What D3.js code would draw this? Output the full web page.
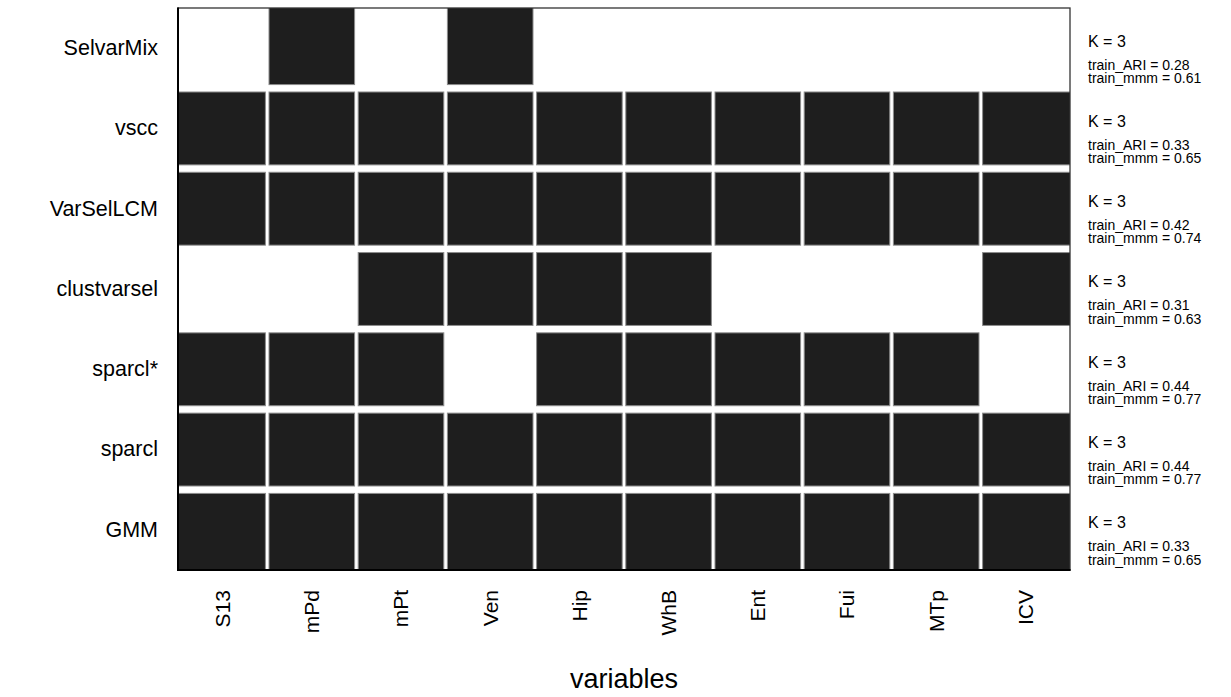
<!DOCTYPE html>
<html>
<head>
<meta charset="utf-8">
<script src="https://cdn.jsdelivr.net/npm/d3@7"></script>
<style>
  html, body { margin: 0; padding: 0; background: #fff; }
  svg text { font-family: "Liberation Sans", Arial, Helvetica, sans-serif; fill: #000; }
</style>
</head>
<body>
<svg id="chart" width="1231" height="697"></svg>
<script>
// Methods (rows) and variables (columns)
const methods = ["SelvarMix", "vscc", "VarSelLCM", "clustvarsel", "sparcl*", "sparcl", "GMM"];
const variables = ["S13", "mPd", "mPt", "Ven", "Hip", "WhB", "Ent", "Fui", "MTp", "ICV"];

// 1 = variable selected by the method
const selSelvarMix   = [0, 1, 0, 1, 0, 0, 0, 0, 0, 0];
const selVscc        = [1, 1, 1, 1, 1, 1, 1, 1, 1, 1];
const selVarSelLCM   = [1, 1, 1, 1, 1, 1, 1, 1, 1, 1];
const selClustvarsel = [0, 0, 1, 1, 1, 1, 0, 0, 0, 1];
const selSparclStar  = [1, 1, 1, 0, 1, 1, 1, 1, 1, 0];
const selSparcl      = [1, 1, 1, 1, 1, 1, 1, 1, 1, 1];
const selGMM         = [1, 1, 1, 1, 1, 1, 1, 1, 1, 1];
const selection = [selSelvarMix, selVscc, selVarSelLCM, selClustvarsel, selSparclStar, selSparcl, selGMM];

// Per-method fit summary
const numClusters = [3, 3, 3, 3, 3, 3, 3];
const trainARI = ["0.28", "0.33", "0.42", "0.31", "0.44", "0.44", "0.33"];
const trainMMM = ["0.61", "0.65", "0.74", "0.63", "0.77", "0.77", "0.65"];

const svg = d3.select("#chart");
const plot = { left: 178, right: 1070, top: 8, bottom: 570 };

const x = d3.scaleBand().domain(variables).range([plot.left, plot.right]).padding(0);
const y = d3.scaleBand().domain(methods).range([plot.top, plot.bottom]).padding(0);

const colGap = 3.6, rowGap = 7.4;

svg.append("clipPath").attr("id", "plotClip")
  .append("rect")
  .attr("x", plot.left).attr("y", plot.top)
  .attr("width", plot.right - plot.left).attr("height", plot.bottom - plot.top);

const cells = [];
methods.forEach((m, r) => {
  variables.forEach((v, c) => {
    if (selection[r][c]) cells.push({ m, v, r, c });
  });
});

// Cell edges: interior edges leave a white gap, outer edges run under the frame
const cellX0 = d => d.c === 0 ? x(d.v) - 4 : x(d.v) + colGap / 2;
const cellX1 = d => d.c === variables.length - 1 ? x(d.v) + x.bandwidth() + 4 : x(d.v) + x.bandwidth() - colGap / 2;
const cellY0 = d => d.r === 0 ? y(d.m) - 4 : y(d.m) + rowGap / 2;
const cellY1 = d => d.r === methods.length - 1 ? y(d.m) + y.bandwidth() + 4 : y(d.m) + y.bandwidth() - rowGap / 2;

svg.append("g").attr("clip-path", "url(#plotClip)")
  .selectAll("rect").data(cells).join("rect")
  .attr("x", cellX0)
  .attr("width", d => cellX1(d) - cellX0(d))
  .attr("y", cellY0)
  .attr("height", d => cellY1(d) - cellY0(d))
  .attr("fill", "#1e1e1e")
  .attr("stroke", "#8c8c8c")
  .attr("stroke-width", 1);

// Frame
svg.append("rect")
  .attr("x", plot.left).attr("y", plot.top)
  .attr("width", plot.right - plot.left).attr("height", plot.bottom - plot.top)
  .attr("fill", "none").attr("stroke", "#333").attr("stroke-width", 1.3);
svg.append("line")
  .attr("x1", plot.left).attr("x2", plot.left)
  .attr("y1", plot.top - 0.6).attr("y2", plot.bottom + 1)
  .attr("stroke", "#000").attr("stroke-width", 2);
svg.append("line")
  .attr("x1", plot.left - 1).attr("x2", plot.right + 0.6)
  .attr("y1", plot.bottom).attr("y2", plot.bottom)
  .attr("stroke", "#000").attr("stroke-width", 2);

// Y axis labels
const yAxis = d3.axisLeft(y).tickSize(0).tickPadding(20);
const gy = svg.append("g").attr("transform", `translate(${plot.left},0)`).call(yAxis);
gy.select(".domain").remove();
gy.selectAll("text")
  .style("font-family", '"Liberation Sans", Arial, sans-serif')
  .style("font-size", "21.5px").attr("fill", "#000");

// X axis labels, rotated
const xAxis = d3.axisBottom(x).tickSize(0).tickPadding(0);
const gx = svg.append("g").attr("transform", `translate(0,${plot.bottom})`).call(xAxis);
gx.select(".domain").remove();
gx.selectAll("text")
  .style("font-family", '"Liberation Sans", Arial, sans-serif')
  .style("font-size", "21px").attr("fill", "#000")
  .attr("text-anchor", "end")
  .attr("dy", "0.35em")
  .attr("y", 0)
  .attr("transform", "translate(0,20) rotate(-90)");

// X axis title
svg.append("text")
  .attr("x", (plot.left + plot.right) / 2).attr("y", 688)
  .attr("text-anchor", "middle")
  .style("font-size", "27px")
  .text("variables");

// Right-hand fit summaries
const ann = svg.append("g");
methods.forEach((m, r) => {
  const top = y(m);
  const tx = plot.right + 18;
  ann.append("text").attr("x", tx).attr("y", top + 38.5)
    .style("font-size", "16px").text(`K = ${numClusters[r]}`);
  ann.append("text").attr("x", tx).attr("y", top + 61.5)
    .style("font-size", "14px").text(`train_ARI = ${trainARI[r]}`);
  ann.append("text").attr("x", tx).attr("y", top + 74.8)
    .style("font-size", "14px").text(`train_mmm = ${trainMMM[r]}`);
});
</script>
</body>
</html>
